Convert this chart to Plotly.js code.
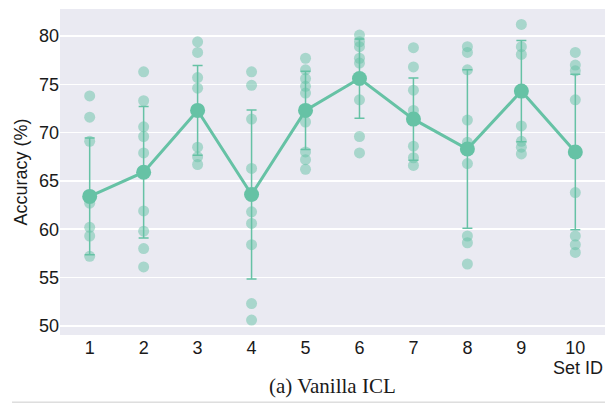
<!DOCTYPE html>
<html>
<head>
<meta charset="utf-8">
<script src="https://cdn.plot.ly/plotly-3.0.1.min.js"></script>
<style>html,body{margin:0;padding:0;background:#fff}#chart{width:605px;height:407px}</style>
</head>
<body>
<div id="chart"></div>
<script>
const setIds = [1, 2, 3, 4, 5, 6, 7, 8, 9, 10];
const set1 = [73.8, 71.6, 69.1, 63.4, 62.7, 60.2, 59.3, 57.2];
const set2 = [76.3, 73.3, 70.6, 69.6, 67.9, 61.9, 59.8, 58.0, 56.1];
const set3 = [79.4, 78.3, 75.7, 74.6, 72.3, 68.5, 67.5, 66.7];
const set4 = [76.3, 74.9, 71.4, 66.3, 61.8, 60.6, 58.4, 52.3, 50.6];
const set5 = [77.7, 76.5, 75.6, 74.8, 74.1, 71.1, 68.0, 67.2, 66.2];
const set6 = [80.1, 79.4, 78.9, 77.7, 77.2, 73.4, 69.6, 67.9];
const set7 = [78.8, 76.8, 74.4, 72.3, 68.6, 67.4, 66.6];
const set8 = [78.9, 78.3, 76.5, 71.3, 69.0, 66.8, 59.3, 58.6, 56.4];
const set9 = [81.2, 78.9, 78.1, 74.5, 70.7, 69.1, 68.5, 67.8];
const set10 = [78.3, 77.0, 76.4, 73.4, 63.8, 59.3, 58.4, 57.6];
const meanAcc = [63.4, 65.9, 72.3, 63.6, 72.3, 75.6, 71.4, 68.3, 74.3, 68.0];
const stdAcc = [6.05, 6.8, 4.65, 8.75, 4.05, 4.1, 4.25, 8.2, 5.25, 8.05];
const tickLabels = ['1', '2', '3', '4', '5', '6', '7', '8', '9', '10'];

const allSets = [set1, set2, set3, set4, set5, set6, set7, set8, set9, set10];
const ptsX = [], ptsY = [];
allSets.forEach((s, i) => s.forEach(v => { ptsX.push(setIds[i]); ptsY.push(v); }));

const green = '#66c2a5';
const traces = [
  {
    x: ptsX, y: ptsY, type: 'scatter', mode: 'markers',
    marker: {color: green, size: 11, opacity: 0.5},
    hoverinfo: 'skip', showlegend: false
  },
  {
    x: setIds, y: meanAcc, type: 'scatter', mode: 'lines+markers',
    line: {color: green, width: 3},
    marker: {color: green, size: 15},
    error_y: {type: 'data', array: stdAcc, visible: true, color: green, thickness: 1.5, width: 5},
    showlegend: false
  }
];

const layout = {
  width: 605, height: 407,
  margin: {l: 60, r: 0, t: 9, b: 72},
  paper_bgcolor: '#ffffff',
  plot_bgcolor: '#EAEAF2',
  font: {family: 'Liberation Sans, Arial, sans-serif', size: 18, color: '#1a1a1a'},
  xaxis: {
    range: [0.45, 10.55], tickvals: setIds, ticktext: tickLabels,
    showgrid: false, zeroline: false, showline: false, ticks: '',
    tickfont: {size: 18}
  },
  yaxis: {
    range: [49.05, 82.8], tickvals: [50, 55, 60, 65, 70, 75, 80],
    showgrid: true, gridcolor: '#ffffff', gridwidth: 1.5,
    zeroline: false, showline: false, ticks: '',
    tickfont: {size: 18},
    title: {text: 'Accuracy (%)', font: {size: 18}, standoff: 6}
  },
  annotations: [
    {text: 'Set ID', xref: 'paper', yref: 'paper', x: 1.0, y: -0.101, xanchor: 'right', yanchor: 'middle',
     showarrow: false, font: {size: 18}},
    {text: '(a) Vanilla ICL', xref: 'paper', yref: 'paper', x: 0.5, y: -0.156, xanchor: 'center', yanchor: 'middle',
     showarrow: false, font: {family: 'Liberation Serif, Times New Roman, serif', size: 21}}
  ],
  shapes: [
    {type: 'line', xref: 'paper', yref: 'paper', x0: -0.088, x1: 1.0, y0: -0.206, y1: -0.206,
     line: {color: '#cccccc', width: 1}}
  ]
};

Plotly.newPlot('chart', traces, layout, {displayModeBar: false, staticPlot: true});
</script>
</body>
</html>
